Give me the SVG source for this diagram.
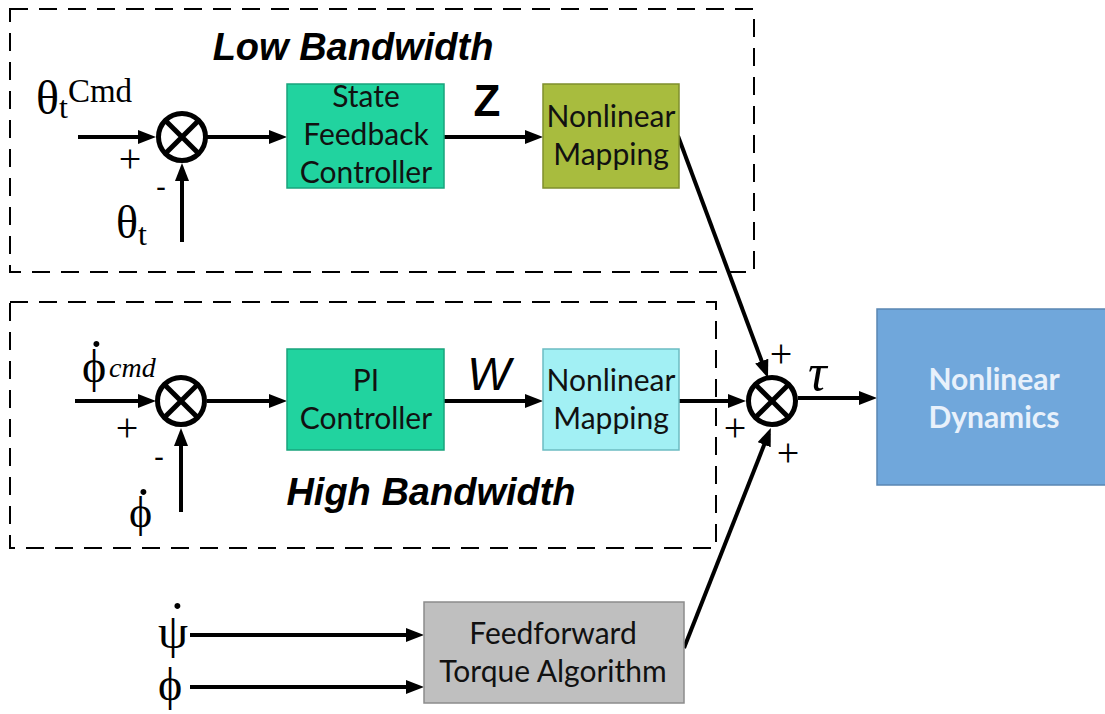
<svg xmlns="http://www.w3.org/2000/svg" width="1105" height="714" viewBox="0 0 1105 714">
  <defs>
    <marker id="arrow" markerUnits="userSpaceOnUse" markerWidth="20" markerHeight="16" refX="12" refY="7" orient="auto">
      <path d="M0,0 L18,7 L0,14 z" fill="#000"/>
    </marker>
    <style>
      .wire { stroke: #000; stroke-width: 4; fill: none; marker-end: url(#arrow); }
      .frame { fill: none; stroke: #000; stroke-width: 2; stroke-dasharray: 18 11; }
      .sum circle { fill: #fff; stroke: #000; stroke-width: 5; }
      .sum line { stroke: #000; stroke-width: 5; }
      .block { font-family: Lato, "Open Sans", sans-serif; font-size: 30px; fill: #111; text-anchor: middle; }
      .title { font-family: "Liberation Sans", Arial, sans-serif; font-size: 38px; font-weight: bold; font-style: italic; text-anchor: middle; }
      .sym { font-family: "Liberation Serif", "Times New Roman", serif; fill: #000; }
      .sign { font-family: "Liberation Serif", "Times New Roman", serif; font-size: 40px; text-anchor: middle; }
      .minus { font-family: "Liberation Sans", Arial, sans-serif; font-size: 30px; text-anchor: middle; }
    </style>
  </defs>
  <rect width="1105" height="714" fill="#fff"/>

  <!-- bandwidth frames -->
  <g id="low-bandwidth-frame">
    <rect class="frame" x="10" y="9" width="744" height="263"/>
    <text class="title" x="353" y="60">Low Bandwidth</text>
  </g>
  <g id="high-bandwidth-frame">
    <rect class="frame" x="10" y="302" width="706" height="246"/>
    <text class="title" x="431" y="505">High Bandwidth</text>
  </g>

  <!-- connectors -->
  <g id="connectors">
    <line class="wire" x1="78" y1="137" x2="150" y2="137"/>
    <line class="wire" x1="182" y1="242" x2="182" y2="169"/>
    <line class="wire" x1="207" y1="137" x2="281" y2="137"/>
    <line class="wire" x1="444" y1="137" x2="537" y2="137"/>
    <line class="wire" x1="678" y1="136" x2="765.9" y2="372.4"/>

    <line class="wire" x1="75" y1="401" x2="150" y2="401"/>
    <line class="wire" x1="181" y1="512" x2="181" y2="434"/>
    <line class="wire" x1="207" y1="401" x2="281" y2="401"/>
    <line class="wire" x1="444" y1="401" x2="537" y2="401"/>
    <line class="wire" x1="679" y1="401" x2="740" y2="401"/>
    <line class="wire" x1="798" y1="398" x2="871" y2="398"/>

    <line class="wire" x1="190" y1="635" x2="418" y2="635"/>
    <line class="wire" x1="190" y1="687" x2="418" y2="687"/>
    <line class="wire" x1="684" y1="648" x2="768.6" y2="433.6"/>
  </g>

  <!-- summing junctions -->
  <g id="sum-theta" class="sum">
    <circle cx="182" cy="137" r="23.5"/>
    <line x1="165.4" y1="120.4" x2="198.6" y2="153.6"/>
    <line x1="198.6" y1="120.4" x2="165.4" y2="153.6"/>
  </g>
  <g id="sum-phi" class="sum">
    <circle cx="181" cy="401" r="23.5"/>
    <line x1="164.4" y1="384.4" x2="197.6" y2="417.6"/>
    <line x1="197.6" y1="384.4" x2="164.4" y2="417.6"/>
  </g>
  <g id="sum-tau" class="sum">
    <circle cx="772" cy="401" r="23.5"/>
    <line x1="755.4" y1="384.4" x2="788.6" y2="417.6"/>
    <line x1="788.6" y1="384.4" x2="755.4" y2="417.6"/>
  </g>

  <!-- blocks -->
  <g id="state-feedback-controller">
    <rect x="287" y="84" width="157" height="104" fill="#21d39f" stroke="#19a47c" stroke-width="1.5"/>
    <text class="block" x="366" y="107">State</text>
    <text class="block" x="366" y="145">Feedback</text>
    <text class="block" x="366" y="183">Controller</text>
  </g>
  <g id="nonlinear-mapping-low">
    <rect x="543" y="84" width="136" height="104" fill="#a8bc3e" stroke="#7f8f2c" stroke-width="1.5"/>
    <text class="block" x="611" y="127">Nonlinear</text>
    <text class="block" x="611" y="165">Mapping</text>
  </g>
  <g id="pi-controller">
    <rect x="287" y="349" width="157" height="101" fill="#21d39f" stroke="#19a47c" stroke-width="1.5"/>
    <text class="block" x="366" y="391">PI</text>
    <text class="block" x="366" y="429">Controller</text>
  </g>
  <g id="nonlinear-mapping-high">
    <rect x="543" y="349" width="136" height="101" fill="#a2f0f4" stroke="#6cbcc2" stroke-width="1.5"/>
    <text class="block" x="611" y="391">Nonlinear</text>
    <text class="block" x="611" y="429">Mapping</text>
  </g>
  <g id="nonlinear-dynamics">
    <rect x="877" y="309" width="240" height="176" fill="#70a7db" stroke="#5a86b3" stroke-width="1.5"/>
    <text class="block" x="994" y="390" font-weight="bold" style="fill:#e8f1fb">Nonlinear</text>
    <text class="block" x="994" y="428" font-weight="bold" style="fill:#e8f1fb">Dynamics</text>
  </g>
  <g id="feedforward-torque">
    <rect x="424" y="602" width="260" height="101" fill="#bfbfbf" stroke="#8c8c8c" stroke-width="1.5"/>
    <text class="block" x="553" y="644">Feedforward</text>
    <text class="block" x="553" y="682">Torque Algorithm</text>
  </g>

  <!-- signal labels -->
  <g id="labels">
    <text class="sym" x="36" y="114" font-size="48">θ<tspan font-size="32" dy="4">t</tspan><tspan font-size="33" dy="-16">Cmd</tspan></text>
    <text class="sym" x="116" y="238" font-size="46">θ<tspan font-size="32" dy="7">t</tspan></text>

    <!-- dotted symbols: the dot is its own tspan set above the letter -->
    <text class="sym" font-size="46"><tspan x="82" y="382">ϕ</tspan><tspan x="87" y="379" font-size="56">˙</tspan><tspan x="109" y="377" font-size="28" font-style="italic">cmd</tspan></text>
    <text class="sym" font-size="44"><tspan x="129" y="527">ϕ</tspan><tspan x="134" y="527" font-size="56">˙</tspan></text>
    <text class="sym" font-size="48"><tspan x="158" y="648">ψ</tspan><tspan x="168" y="641" font-size="56">˙</tspan></text>
    <text class="sym" x="158" y="700" font-size="46">ϕ</text>

    <text x="487" y="116" font-family="Liberation Sans, Arial, sans-serif" font-size="44" font-weight="bold" text-anchor="middle">Z</text>
    <text x="489" y="390" font-family="Liberation Sans, Arial, sans-serif" font-size="46" font-style="italic" text-anchor="middle">W</text>
    <text class="sym" x="808" y="390" font-size="52" font-style="italic">τ</text>

    <text class="sign" x="130" y="172">+</text>
    <text class="minus" x="161" y="197">-</text>
    <text class="sign" x="127" y="441">+</text>
    <text class="minus" x="159" y="467">-</text>
    <text class="sign" x="781" y="367">+</text>
    <text class="sign" x="735" y="441">+</text>
    <text class="sign" x="788" y="466">+</text>
  </g>
</svg>
